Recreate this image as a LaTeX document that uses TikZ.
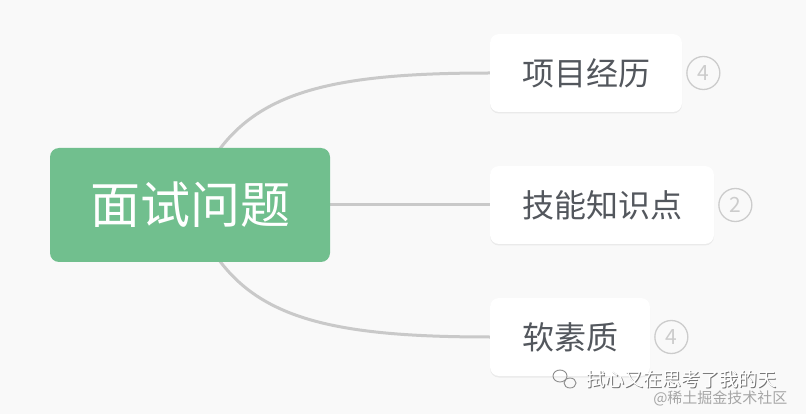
\documentclass[tikz,border=0pt]{standalone}
\usepackage{fontspec}
\setmainfont{Noto Sans CJK SC}
\usepackage{xcolor}
\usetikzlibrary{positioning, shadows}
\definecolor{bgcol}{HTML}{F9F9F9}
\definecolor{rootgreen}{HTML}{71BF8E}
\definecolor{linkgray}{HTML}{C9C9C9}
\definecolor{textgray}{HTML}{53575D}
\definecolor{badgegray}{HTML}{CCCCCC}

\begin{document}
\begin{tikzpicture}[
  x=1pt, y=-1pt,
  rootbox/.style={fill=rootgreen, rounded corners=9pt, minimum width=280pt, minimum height=114pt,
                  inner sep=0pt, text=white, font=\fontsize{50}{54}\selectfont},
  topic/.style={fill=white, rounded corners=9pt, minimum height=78pt, inner xsep=32pt, inner ysep=0pt,
                text=textgray, font=\fontsize{32}{35}\selectfont,
                drop shadow={opacity=0.12, shadow xshift=0pt, shadow yshift=-1.5pt}},
  badge/.style={circle, draw=badgegray, line width=1.3pt, minimum size=33pt, inner sep=0pt,
                text=badgegray, font=\fontsize{21}{22}\selectfont},
  link/.style={linkgray, line width=3pt},
  markfont/.style={font=\fontsize{19}{20}\selectfont, anchor=west}
]
  \useasboundingbox[fill=bgcol] (0,0) rectangle (806,414);

  %% Topics
  \node[topic] (proj) at (586,73) {项目经历};
  \node[topic] (skill) at (602,205) {技能知识点};
  \node[topic] (soft) at (570,337) {软素质};

  %% Badges
  \node[badge, right=4pt of proj] (bproj) {4};
  \node[badge, right=4pt of skill] (bskill) {2};
  \node[badge, right=4pt of soft] (bsoft) {4};

  %% Links
  \coordinate (hub) at (190,205);
  \draw[link] (hub) .. controls (230,100) and (300,73) .. (proj.west);
  \draw[link] (hub) -- (skill.west);
  \draw[link] (hub) .. controls (230,310) and (300,337) .. (soft.west);

  %% Root
  \node[rootbox] (root) at (190,205) {面试问题};

  %% Watermark
  \node[markfont, text=black!55] (markshadow) at (583.8,379.8) {拭心又在思考了我的天};
  \node[markfont, text=white] (mark) at (583,379) {拭心又在思考了我的天};
  \node[text=black!35, font=\fontsize{15}{16}\selectfont, anchor=east] (site) at (791,398) {@稀土掘金技术社区};
  \draw[black!45, line width=0.9pt] (560,376) circle[x radius=7pt, y radius=6pt];
  \draw[black!45, line width=0.9pt, fill=bgcol] (570,383) circle[x radius=6pt, y radius=5pt];
\end{tikzpicture}
\end{document}
